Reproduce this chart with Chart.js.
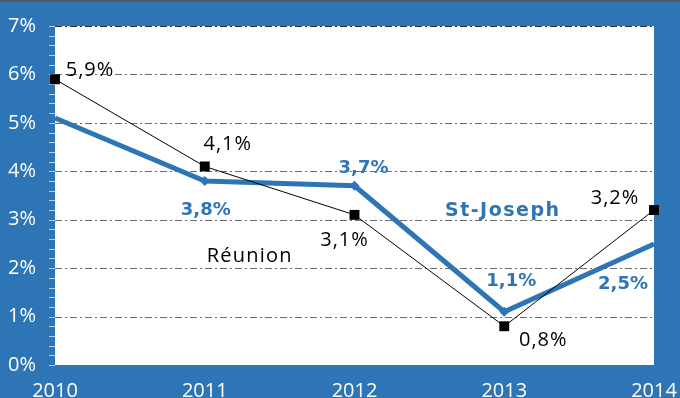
<!DOCTYPE html>
<html>
<head>
<meta charset="utf-8">
<style>
  html, body { margin: 0; padding: 0; background: #2E75B6; }
  #wrap { width: 680px; height: 398px; }
</style>
<script src="https://cdn.jsdelivr.net/npm/chart.js@4/dist/chart.umd.min.js"></script>
</head>
<body>
<div id="wrap"><canvas id="c" width="680" height="398"></canvas></div>
<script>
// Annual rate (%) for Réunion and St-Joseph
const years = ['2010', '2011', '2012', '2013', '2014'];
const reunion = [5.9, 4.1, 3.1, 0.8, 3.2];
const stJoseph = [5.1, 3.8, 3.7, 1.1, 2.5];
const reunionLabels = ['5,9%', '4,1%', '3,1%', '0,8%', '3,2%'];
const stJosephLabels = ['', '3,8%', '3,7%', '1,1%', '2,5%'];
const yTicks = [0, 1, 2, 3, 4, 5, 6, 7];

const BLUE = '#2E75B6';
const AXIS_FONT = "'Open Sans', sans-serif";
const BOLD_FONT = "'DejaVu Sans', sans-serif";

// label offsets from each point, in pixels
const reunionOffsets = [[35, -9], [23, -22], [-10, 25], [39, 14], [-39, -12]];
const stJosephOffsets = [[0, 0], [1, 29], [9, -17], [7, -30], [-31, 40]];

const frame = {
  id: 'frame',
  beforeDraw(chart) {
    const { ctx, chartArea: a } = chart;
    ctx.save();
    ctx.fillStyle = BLUE;
    ctx.fillRect(0, 0, chart.width, chart.height);
    ctx.fillStyle = '#595959';
    ctx.fillRect(0, 0, chart.width, 2);
    ctx.fillStyle = '#ffffff';
    ctx.fillRect(a.left, a.top, a.right - a.left, a.bottom - a.top);
    ctx.restore();
  },
  beforeDatasetsDraw(chart) {
    const { ctx, chartArea: a, scales: { y } } = chart;
    ctx.save();
    // dash-dot grid lines
    ctx.lineWidth = 1;
    ctx.setLineDash([7, 3, 2, 3]);
    y.ticks.forEach(t => {
      if (t.value === 0) return;
      const py = Math.round(y.getPixelForValue(t.value)) + 0.5;
      ctx.strokeStyle = t.value === 7 ? '#333333' : '#6f6f6f';
      ctx.beginPath();
      ctx.moveTo(a.left, py);
      ctx.lineTo(a.right, py);
      ctx.stroke();
    });
    ctx.setLineDash([]);
    // minor tick marks on the left edge
    ctx.strokeStyle = '#b7cde6';
    for (let v = 0; v <= 7.0001; v += 0.2) {
      const py = Math.round(y.getPixelForValue(v)) + 0.5;
      ctx.beginPath();
      ctx.moveTo(a.left - 6, py);
      ctx.lineTo(a.left, py);
      ctx.stroke();
    }
    ctx.restore();
  },
  afterDatasetsDraw(chart) {
    const { ctx, scales: { x, y } } = chart;
    ctx.save();
    ctx.textAlign = 'center';
    ctx.textBaseline = 'middle';
    ctx.font = `20px ${AXIS_FONT}`;
    ctx.letterSpacing = '1px';
    ctx.fillStyle = '#000000';
    reunion.forEach((v, i) => {
      const px = x.getPixelForValue(i) + reunionOffsets[i][0];
      const py = y.getPixelForValue(v) + reunionOffsets[i][1];
      ctx.fillText(reunionLabels[i], px, py);
    });
    ctx.font = `bold 18px ${BOLD_FONT}`;
    ctx.letterSpacing = '0px';
    ctx.fillStyle = BLUE;
    stJoseph.forEach((v, i) => {
      if (!stJosephLabels[i]) return;
      const px = x.getPixelForValue(i) + stJosephOffsets[i][0];
      const py = y.getPixelForValue(v) + stJosephOffsets[i][1];
      ctx.fillText(stJosephLabels[i], px, py);
    });
    // series names
    ctx.font = `bold 19px ${BOLD_FONT}`;
    ctx.letterSpacing = '1.5px';
    ctx.fillText('St-Joseph', x.getPixelForValue(2.99), y.getPixelForValue(3.17));
    ctx.font = `20px ${AXIS_FONT}`;
    ctx.letterSpacing = '1.2px';
    ctx.fillStyle = '#000000';
    ctx.fillText('Réunion', x.getPixelForValue(1.3), y.getPixelForValue(2.24));
    ctx.restore();
  }
};

new Chart(document.getElementById('c'), {
  type: 'line',
  data: {
    labels: years,
    datasets: [
      {
        label: 'St-Joseph',
        data: stJoseph,
        borderColor: BLUE,
        backgroundColor: BLUE,
        borderWidth: 5,
        pointStyle: 'rectRot',
        pointRadius: [0, 5, 5, 5, 0],
        pointBorderWidth: 0,
        tension: 0,
        order: 2
      },
      {
        label: 'Réunion',
        data: reunion,
        borderColor: '#000000',
        backgroundColor: '#000000',
        borderWidth: 1,
        pointStyle: 'rect',
        pointRadius: 7,
        pointBorderWidth: 0,
        tension: 0,
        clip: false,
        order: 1
      }
    ]
  },
  options: {
    responsive: false,
    animation: false,
    devicePixelRatio: 1,
    layout: { padding: { top: 26, right: 26, left: 0, bottom: 0 } },
    plugins: { legend: { display: false }, tooltip: { enabled: false } },
    scales: {
      x: {
        offset: false,
        grid: { display: false, drawTicks: false },
        border: { display: false },
        ticks: { color: '#ffffff', font: { family: AXIS_FONT, size: 20 }, padding: 14, maxRotation: 0, autoSkip: false },
        afterFit(s) { s.height = 33; s.paddingLeft = 0; s.paddingRight = 0; }
      },
      y: {
        min: 0,
        max: 7,
        afterBuildTicks(s) { s.ticks = yTicks.map(v => ({ value: v })); },
        grid: { display: false, drawTicks: false },
        border: { display: false },
        ticks: { color: '#ffffff', font: { family: AXIS_FONT, size: 20 }, padding: 19, callback: v => v + '%' },
        afterFit(s) { s.width = 55; s.paddingTop = 0; s.paddingBottom = 0; }
      }
    }
  },
  plugins: [frame]
});
</script>
</body>
</html>
